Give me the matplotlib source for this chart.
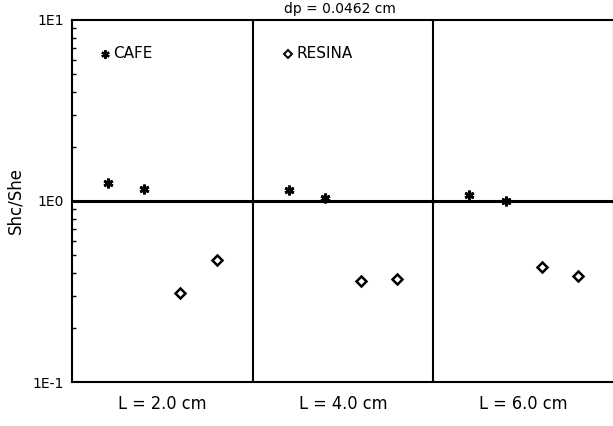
import matplotlib
matplotlib.use('Agg')
import matplotlib.pyplot as plt
from matplotlib.ticker import LogLocator, NullFormatter, FixedLocator

# ------------------------------------------------------------------
panels = ["L = 2.0 cm", "L = 4.0 cm", "L = 6.0 cm"]
cafe_pos = [0.2, 0.4]
resina_pos = [0.6, 0.8]
cafe_vals = [[1.26, 1.16], [1.15, 1.04], [1.08, 1.00]]
resina_vals = [[0.31, 0.47], [0.36, 0.37], [0.43, 0.385]]
ytick_vals = [0.1, 1.0, 10.0]
ytick_labels = ["1E-1", "1E0", "1E1"]
title = "dp = 0.0462 cm"

# ------------------------------------------------------------------
plt.rcParams['font.family'] = ['DejaVu Sans']
fig = plt.figure(figsize=(6.13, 4.26), dpi=100)
ax = fig.add_axes([72/613, 44/426, 542/613, 362/426])

for ii in range(len(panels)):
    ax.plot([ii + p for p in cafe_pos], cafe_vals[ii], linestyle='none',
            marker=(6, 2, 0), markersize=7, mew=2.0, color='black')
    ax.plot([ii + p for p in resina_pos], resina_vals[ii], linestyle='none',
            marker='D', markersize=5.5, mew=1.8, mfc='white', mec='black')
    ax.text(ii + 0.5, -0.035, panels[ii], transform=ax.get_xaxis_transform(),
            ha='center', va='top', fontsize=13, stretch='condensed')

for xx in range(1, len(panels)):
    ax.axvline(xx, color='black', lw=1.5)
ax.axhline(1.0, color='black', lw=2.2)

ax.set_yscale('log')
ax.set_ylim(0.1, 10)
ax.set_xlim(0, 3)
ax.yaxis.set_major_locator(FixedLocator(ytick_vals))
ax.set_yticklabels(ytick_labels, fontsize=10)
ax.yaxis.set_minor_locator(LogLocator(base=10, subs=[2, 3, 4, 5, 6, 7, 8, 9]))
ax.yaxis.set_minor_formatter(NullFormatter())
ax.tick_params(axis='y', which='major', length=0, pad=6)
ax.tick_params(axis='y', which='minor', direction='in', length=3, width=1)
ax.set_xticks([])
for sp in ax.spines.values():
    sp.set_linewidth(1.5)

ax.set_ylabel("Shc/She", fontsize=12, labelpad=6)

# legend written as text like the plotter did
ax.plot([0.185], [6.5], linestyle='none', marker=(6, 2, 0), markersize=6,
        mew=1.6, color='black')
ax.text(0.23, 6.5, "CAFE", va='center', ha='left', fontsize=11)
ax.plot([1.195], [6.5], linestyle='none', marker='D', markersize=4.5,
        mew=1.4, mfc='white', mec='black')
ax.text(1.24, 6.5, "RESINA", va='center', ha='left', fontsize=11)

fig.text(340/613, 1.0 - 9/426, title, ha='center', va='center', fontsize=10)

plt.savefig("out.png", dpi=100)
